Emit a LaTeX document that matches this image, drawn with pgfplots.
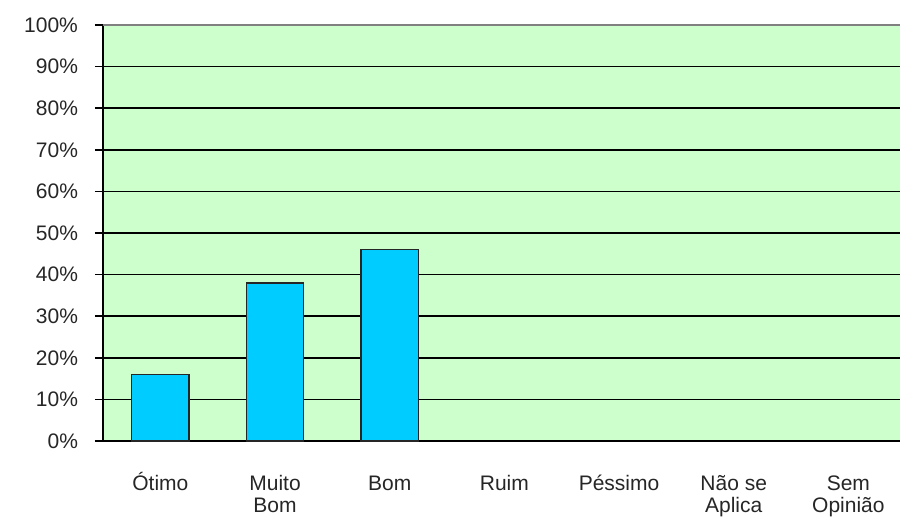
\documentclass[border=0pt]{standalone}
\usepackage{pgfplots}
\pgfplotsset{compat=1.18}
\usepackage{fontspec}
\setmainfont{Liberation Sans}
\definecolor{bg}{HTML}{CCFFCC}
\definecolor{barc}{HTML}{00CCFF}
\newcommand{\hp}{\vphantom{ÓÃ}}
\begin{document}
\begin{tikzpicture}[x=1pt,y=1pt]
\begin{axis}[
  at={(0,0)}, anchor=south west,
  scale only axis,
  width=398.5pt, height=208pt,
  xmin=-0.5, xmax=6.45,
  ymin=0, ymax=100,
  axis background/.style={fill=bg},
  axis x line*=bottom, axis y line*=left,
  axis line style={black, line width=0.8pt},
  separate axis lines,
  y axis line style={-},
  x axis line style={-},
  ytick={0,10,...,100},
  yticklabels={0\%,10\%,20\%,30\%,40\%,50\%,60\%,70\%,80\%,90\%,100\%},
  ymajorgrids, major grid style={black, line width=0.8pt},
  xtick={0,...,6},
  xticklabels={\hp Ótimo,{\hp Muito\\Bom},\hp Bom,\hp Ruim,\hp Péssimo,{\hp Não se\\Aplica},{\hp Sem\\Opinião}},
  xticklabel style={anchor=north, align=center, font=\fontsize{10.5}{11}\selectfont, text=black!85, yshift=-8pt},
  yticklabel style={font=\fontsize{10.5}{11}\selectfont, text=black!85, xshift=-5pt},
  extra x ticks={0.5,1.5,2.5,3.5,4.5,5.5},
  extra x tick labels={},
  extra x tick style={major tick length=8pt, tick style={black, line width=0.8pt}, tick align=outside, grid=none},
  major x tick style={draw=none},
  major tick length=4pt,
  tick align=outside,
  y tick style={black, line width=0.8pt},
  clip=false,
]
\addplot[ybar, bar width=0.5, fill=barc, draw=black!85, line width=0.8pt] coordinates {(0,16) (1,38) (2,46)};
\draw[gray, line width=0.8pt] (rel axis cs:0,1) -- (rel axis cs:1,1);
\end{axis}
\pgfresetboundingbox
\path (-51.5pt,-39.5pt) rectangle (398.5pt,220.5pt);
\end{tikzpicture}
\end{document}
